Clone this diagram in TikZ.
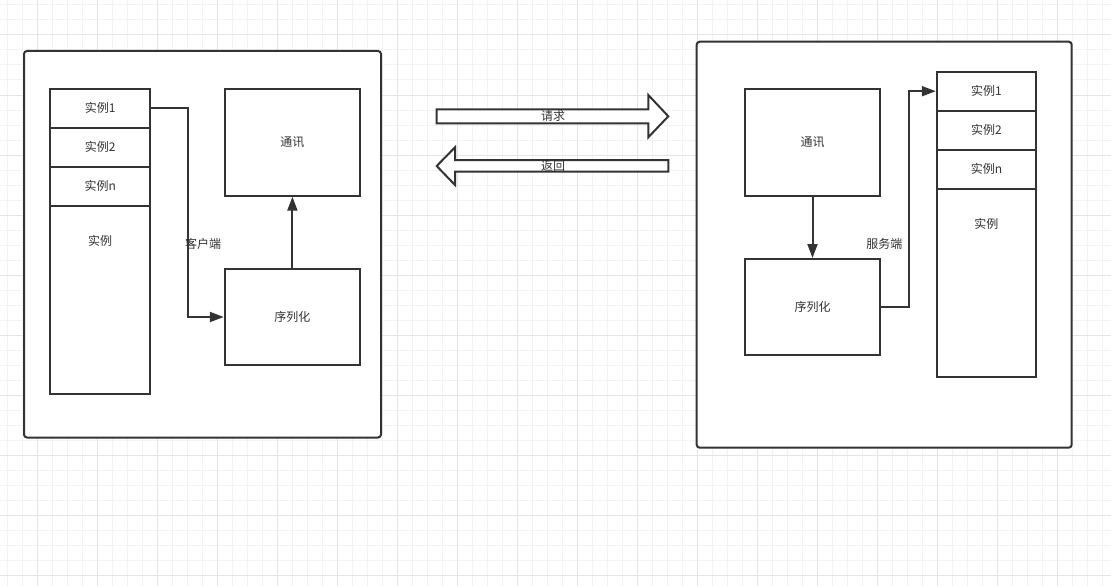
\documentclass[tikz,border=0pt]{standalone}
\usepackage{fontspec}
\newfontfamily\cjk{Noto Sans CJK SC}
\usetikzlibrary{arrows.meta}
\definecolor{ink}{HTML}{333333}
\definecolor{gridminor}{HTML}{F3F3F3}
\definecolor{gridmajor}{HTML}{E5E5E5}
\tikzset{
  every node/.style={font=\cjk\fontsize{12}{14}\selectfont, text=ink},
  box/.style={draw=ink, line width=2pt, fill=white, inner sep=0pt, rectangle},
  frame/.style={draw=ink, line width=2pt, rounded corners=3pt, fill=white},
  conn/.style={draw=ink, line width=2pt, -{Triangle[length=14pt,width=10pt]}},
  blockarrow/.style={draw=ink, line width=2pt, fill=white, line join=miter},
  lbl/.style={inner sep=1pt}
}
\begin{document}
\begin{tikzpicture}[x=1pt,y=-1pt]
\useasboundingbox (0,0) rectangle (1111,586);
\fill[white] (0,0) rectangle (1111,586);
% grid
\foreach \i in {0,...,74} {
  \draw[gridminor, line width=1pt] ({7.3+15*\i},0) -- ({7.3+15*\i},586);
}
\foreach \j in {0,...,39} {
  \draw[gridminor, line width=1pt] (0,{5+15*\j}) -- (1111,{5+15*\j});
}
\foreach \i in {0,...,18} {
  \draw[gridmajor, line width=1pt] ({37.3+60*\i},0) -- ({37.3+60*\i},586);
}
\foreach \j in {0,...,9} {
  \draw[gridmajor, line width=1pt] (0,{35+60*\j}) -- (1111,{35+60*\j});
}

% ---------- left container ----------
\draw[frame] (24,51) rectangle (381,437.5);
\node[box, minimum width=99.5pt, minimum height=39pt] (l1) at (100.2,108.3) {实例1};
\node[box, minimum width=99.5pt, minimum height=39pt] (l2) at (100.2,147.3) {实例2};
\node[box, minimum width=99.5pt, minimum height=39pt] (ln) at (100.2,186.3) {实例n};
\node[box, minimum width=99.5pt, minimum height=188.3pt] (lbase) at (100.2,299.9) {};
\node[lbl] (lbaset) at (100.2,241.3) {实例};
\node[box, minimum width=135.3pt, minimum height=107pt] (ltx) at (292.4,142.2) {通讯};
\node[box, minimum width=135.3pt, minimum height=96pt] (lser) at (292.4,317) {序列化};
\draw[conn] (lser.north) -- (ltx.south);
\draw[conn] (l1.east) -- ++(37,0) |- (lser.west);
\node[lbl] (lclient) at (203,244) {客户端};

% ---------- middle block arrows ----------
\draw[blockarrow] (436.7,109.3) -- (648.3,109.3) -- (648.3,95) -- (668.3,116.3) -- (648.3,137.3) -- (648.3,123.3) -- (436.7,123.3) -- cycle;
\node[lbl] (req) at (553,116.3) {请求};
\draw[blockarrow] (668.3,160) -- (455,160) -- (455,147.3) -- (436.7,166) -- (455,185) -- (455,171.7) -- (668.3,171.7) -- cycle;
\node[lbl] (ret) at (553,166) {返回};

% ---------- right container ----------
\draw[frame] (696.7,41.7) rectangle (1071.7,447.7);
\node[box, minimum width=135pt, minimum height=106.7pt] (rtx) at (812.5,142.3) {通讯};
\node[box, minimum width=135pt, minimum height=96pt] (rser) at (812.5,307) {序列化};
\draw[conn] (rtx.south) -- (rser.north);
\node[box, minimum width=99.3pt, minimum height=39pt] (r1) at (986.4,91.2) {实例1};
\node[box, minimum width=99.3pt, minimum height=39pt] (r2) at (986.4,130.2) {实例2};
\node[box, minimum width=99.3pt, minimum height=39pt] (rn) at (986.4,169.3) {实例n};
\node[box, minimum width=99.3pt, minimum height=187.7pt] (rbase) at (986.4,282.8) {};
\node[lbl] (rbaset) at (986.4,224.3) {实例};
\draw[conn] (rser.east) -- ++(28,0) |- (r1.west);
\node[lbl] (rserver) at (884.3,244.3) {服务端};
\end{tikzpicture}
\end{document}
